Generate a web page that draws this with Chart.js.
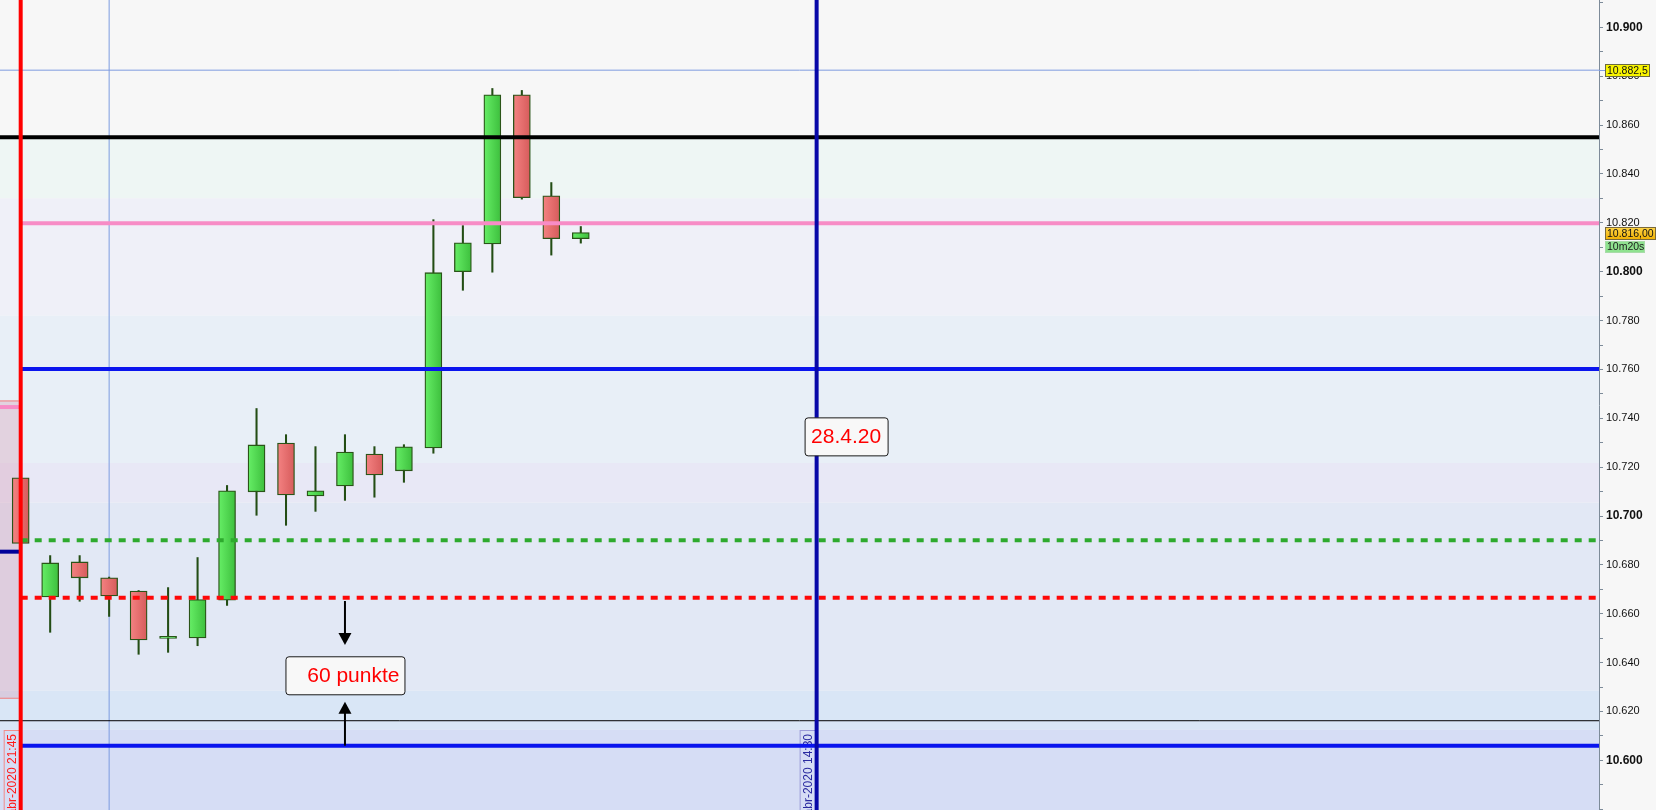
<!DOCTYPE html>
<html lang="es">
<head>
<meta charset="UTF-8">
<title>Velas 10 min</title>
<script src="https://cdn.jsdelivr.net/npm/chart.js@4"></script>
<style>
    html, body {
        margin: 0;
        padding: 0;
        background: #f7f7f7;
        overflow: hidden;
    }
    #wrap {
        position: relative;
        width: 1656px;
        height: 810px;
    }
</style>
</head>
<body>
<div id="wrap"><canvas id="chart"></canvas></div>
<script>
// candles, index 0 = bar on the red session line
const candleIdx = [0, 1, 2, 3, 4, 5, 6, 7, 8, 9, 10, 11, 12, 13, 14, 15, 16, 17, 18, 19];
const opens  = [10.7156, 10.6669, 10.6812, 10.6747, 10.6693, 10.6499, 10.6501, 10.6655, 10.7099, 10.7299,
                10.7082, 10.7123, 10.7254, 10.7185, 10.7279, 10.8000, 10.8114, 10.8724, 10.8311, 10.8135];
const highs  = [10.7160, 10.6838, 10.6838, 10.6750, 10.6695, 10.6707, 10.6830, 10.7125, 10.7440, 10.7333,
                10.7284, 10.7333, 10.7284, 10.7292, 10.8213, 10.8189, 10.8750, 10.8742, 10.8365, 10.8185];
const lows   = [10.6886, 10.6524, 10.6651, 10.6589, 10.6434, 10.6442, 10.6469, 10.6634, 10.7003, 10.6962,
                10.7019, 10.7064, 10.7077, 10.7138, 10.7257, 10.7924, 10.7998, 10.8297, 10.8068, 10.8117];
const closes = [10.6888, 10.6808, 10.6747, 10.6673, 10.6493, 10.6507, 10.6658, 10.7103, 10.7291, 10.7086,
                10.7103, 10.7262, 10.7168, 10.7283, 10.7996, 10.8118, 10.8724, 10.8303, 10.8135, 10.8160];

// visible range
const X_MIN = -0.702, X_MAX = 53.54;
const Y_MIN = 10.57966, Y_MAX = 10.91122;

// horizontal levels drawn across the chart
const levelValues = [10.8825, 10.855, 10.8198, 10.7602, 10.6901, 10.6665, 10.6162, 10.606];
const levelStart  = [X_MIN, X_MIN, 0, 0, 0, 0, X_MIN, 0];
// short levels left of the session line
const leftLevels = [10.7446, 10.6854];
// vertical lines (bar index)
const vLines = [3, 0, 27];

// background bands (price edges, top to bottom)
const bandEdges = [Y_MAX, 10.855, 10.830, 10.782, 10.7217, 10.7055, 10.6285, 10.6125, Y_MIN];
const bandColors = ['#f7f7f7', '#eef6f4', '#eff0f8', '#e8eff7', '#e8e8f6', '#e2e8f5', '#d9e6f6', '#d6ddf5'];
// shaded box of the previous session
const prevBox = [10.7473, 10.6252];

// notes
const notes = [
    { text: '28.4.20', x: 28, y: 10.7326 },
    { text: '60 punkte', x: 11, y: 10.6348 }
];
const arrowX = 11;
const arrowDown = [10.6652, 10.6472];
const arrowUp = [10.606, 10.624];
const dateLabels = [
    { x: 0, text: 'abr-2020 21:45' },
    { x: 27, text: 'abr-2020 14:30' }
];
// right axis badges
const crossValue = 10.8825, crossText = '10.882,5';
const lastValue = 10.816, lastText = '10.816,00', timerText = '10m20s';

const FONT = 'Arial, "Liberation Sans", sans-serif';

const levelColors = ['#7f9be0', '#000000', '#f78cc6', '#0a14ee', '#2eaa2e', '#ff0808', '#000000', '#0a14ee'];
const levelWidths = [1, 4, 4, 4, 4, 4, 1, 4];
const levelDash = [[], [], [], [], [7, 7], [7, 7], [], []];
const levelOrder = [9, 2, 2, 2, 2, 2, 1, 2];
const leftColors = ['#f78cc6', '#000099'];
const vColors = ['#7b9be0', '#ff0000', '#0808a8'];
const vWidths = [1, 4, 4];
const vOrder = [10, 0, 0];

function bodyFill(c) {
    const i = c.dataIndex;
    if (i === undefined) return '#55dd55';
    const up = closes[i] >= opens[i];
    const xs = c.chart.scales.x;
    if (!xs || !c.chart.chartArea) return up ? '#52dc52' : '#e86c6c';
    const px = xs.getPixelForValue(candleIdx[i]);
    const g = c.chart.ctx.createLinearGradient(px - 8.5, 0, px + 8.5, 0);
    if (up) {
        g.addColorStop(0, '#66ee66');
        g.addColorStop(1, '#3dbf3d');
    } else {
        g.addColorStop(0, '#f48282');
        g.addColorStop(1, '#d65b5b');
    }
    return g;
}

const datasets = [];
datasets.push({
    type: 'bar',
    data: candleIdx.map((x, i) => ({ x: x, y: [opens[i], closes[i]] })),
    backgroundColor: bodyFill,
    borderColor: '#2a5418',
    borderWidth: 1.3,
    borderSkipped: false,
    barThickness: 17,
    grouped: false,
    order: 5
});
datasets.push({
    type: 'bar',
    data: candleIdx.map((x, i) => ({ x: x, y: [lows[i], highs[i]] })),
    backgroundColor: '#234d14',
    borderWidth: 0,
    barThickness: 1.4,
    grouped: false,
    order: 6
});
levelValues.forEach((v, i) => {
    datasets.push({
        type: 'line',
        data: [{ x: levelStart[i], y: v }, { x: X_MAX, y: v }],
        borderColor: levelColors[i],
        borderWidth: levelWidths[i],
        borderDash: levelDash[i],
        borderCapStyle: 'butt',
        pointRadius: 0,
        fill: false,
        order: levelOrder[i]
    });
});
leftLevels.forEach((v, i) => {
    datasets.push({
        type: 'line',
        data: [{ x: X_MIN, y: v }, { x: 0, y: v }],
        borderColor: leftColors[i],
        borderWidth: 4,
        borderCapStyle: 'butt',
        pointRadius: 0,
        fill: false,
        order: 3
    });
});
vLines.forEach((xv, i) => {
    datasets.push({
        type: 'line',
        data: [{ x: xv, y: Y_MIN }, { x: xv, y: Y_MAX }],
        borderColor: vColors[i],
        borderWidth: vWidths[i],
        borderCapStyle: 'butt',
        pointRadius: 0,
        fill: false,
        order: vOrder[i]
    });
});

function roundBox(ctx, x, y, w, h, r) {
    ctx.beginPath();
    if (ctx.roundRect) ctx.roundRect(x, y, w, h, r);
    else ctx.rect(x, y, w, h);
}

function arrow(ctx, px, yFrom, yTip) {
    const dir = yTip > yFrom ? 1 : -1;
    ctx.strokeStyle = '#000';
    ctx.fillStyle = '#000';
    ctx.lineWidth = 2;
    ctx.beginPath();
    ctx.moveTo(px, yFrom);
    ctx.lineTo(px, yTip - dir * 11);
    ctx.stroke();
    ctx.beginPath();
    ctx.moveTo(px, yTip);
    ctx.lineTo(px - 6.5, yTip - dir * 12);
    ctx.lineTo(px + 6.5, yTip - dir * 12);
    ctx.closePath();
    ctx.fill();
}

const drawing = {
    id: 'drawing',
    beforeDraw(chart) {
        const { ctx, chartArea: a, scales: { y } } = chart;
        ctx.save();
        ctx.fillStyle = '#f7f7f7';
        ctx.fillRect(0, 0, chart.width, chart.height);
        for (let i = 0; i < bandColors.length; i++) {
            const y0 = y.getPixelForValue(bandEdges[i]);
            const y1 = y.getPixelForValue(bandEdges[i + 1]);
            ctx.fillStyle = bandColors[i];
            ctx.fillRect(a.left, y0, a.right - a.left, y1 - y0);
        }
        ctx.restore();
    },
    beforeDatasetsDraw(chart) {
        const { ctx, chartArea: a, scales: { x, y } } = chart;
        ctx.save();
        // previous session box
        const bx1 = x.getPixelForValue(0) - 2;
        const by0 = y.getPixelForValue(prevBox[0]);
        const by1 = y.getPixelForValue(prevBox[1]);
        ctx.fillStyle = 'rgba(215,150,175,0.32)';
        ctx.fillRect(a.left, by0, bx1 - a.left, by1 - by0);
        ctx.strokeStyle = '#f08080';
        ctx.lineWidth = 1;
        ctx.beginPath();
        ctx.moveTo(a.left, by0 + 0.5); ctx.lineTo(bx1, by0 + 0.5);
        ctx.moveTo(a.left, by1 - 0.5); ctx.lineTo(bx1, by1 - 0.5);
        ctx.stroke();

        // rotated date labels at the bottom
        const boxCols = ['#f08c8c', '#9a9ad8'];
        const txtCols = ['#ff1a1a', '#2a2aa0'];
        dateLabels.forEach((d, i) => {
            const px = x.getPixelForValue(d.x);
            ctx.strokeStyle = boxCols[i];
            ctx.lineWidth = 1;
            ctx.strokeRect(px - 16.5, 730.5, 17, 100);
            ctx.save();
            ctx.translate(px - 8, 734);
            ctx.rotate(-Math.PI / 2);
            ctx.font = '12px ' + FONT;
            ctx.fillStyle = txtCols[i];
            ctx.textAlign = 'right';
            ctx.textBaseline = 'middle';
            ctx.fillText(d.text, 0, 0);
            ctx.restore();
        });
        ctx.restore();
    },
    afterDatasetsDraw(chart) {
        const { ctx, scales: { x, y } } = chart;
        ctx.save();
        const ax = x.getPixelForValue(arrowX);
        arrow(ctx, ax, y.getPixelForValue(arrowDown[0]), y.getPixelForValue(arrowDown[1]));
        arrow(ctx, ax, y.getPixelForValue(arrowUp[0]), y.getPixelForValue(arrowUp[1]));

        ctx.font = '21px ' + FONT;
        ctx.textBaseline = 'middle';
        notes.forEach((n, i) => {
            const cx = x.getPixelForValue(n.x);
            const cy = y.getPixelForValue(n.y);
            const w = i === 0 ? 83 : 119;
            const h = 38;
            roundBox(ctx, cx - w / 2 + 0.5, cy - h / 2 + 0.5, w, h, 3);
            ctx.fillStyle = '#f8f8f8';
            ctx.fill();
            ctx.strokeStyle = '#1a1a1a';
            ctx.lineWidth = 1;
            ctx.stroke();
            ctx.fillStyle = '#ff0000';
            if (i === 0) {
                ctx.textAlign = 'center';
                ctx.fillText(n.text, cx, cy + 1);
            } else {
                ctx.textAlign = 'right';
                ctx.fillText(n.text, cx + w / 2 - 5, cy + 1);
            }
        });
        ctx.restore();
    },
    afterDraw(chart) {
        const { ctx, chartArea: a, scales: { y } } = chart;
        ctx.save();
        ctx.font = '10.5px ' + FONT;
        ctx.textBaseline = 'middle';
        ctx.textAlign = 'left';

        // crosshair badge
        const cy = Math.round(y.getPixelForValue(crossValue));
        ctx.strokeStyle = '#7f9be0';
        ctx.lineWidth = 1;
        ctx.beginPath();
        ctx.moveTo(a.right, cy + 0.5); ctx.lineTo(a.right + 6, cy + 0.5);
        ctx.stroke();
        ctx.fillStyle = '#f8f400';
        ctx.fillRect(a.right + 6, cy - 6, 45, 13);
        ctx.strokeStyle = '#6a6a40';
        ctx.strokeRect(a.right + 6.5, cy - 5.5, 44, 12);
        ctx.fillStyle = '#111';
        ctx.fillText(crossText, a.right + 8, cy + 1);

        // last price badge
        const ly = Math.round(y.getPixelForValue(lastValue));
        const g = ctx.createLinearGradient(0, ly - 6, 0, ly + 7);
        g.addColorStop(0, '#ffd64a');
        g.addColorStop(1, '#f0b000');
        ctx.fillStyle = g;
        ctx.fillRect(a.right + 6, ly - 6, 51, 13);
        ctx.strokeStyle = '#7a6a3a';
        ctx.strokeRect(a.right + 6.5, ly - 5.5, 50, 12);
        ctx.fillStyle = '#111';
        ctx.fillText(lastText, a.right + 8, ly + 1);

        // timer badge
        ctx.fillStyle = '#8fe28f';
        ctx.fillRect(a.right + 6, ly + 8, 40, 12);
        ctx.strokeStyle = '#a8dca8';
        ctx.strokeRect(a.right + 6.5, ly + 8.5, 39, 11);
        ctx.fillStyle = '#1a1a1a';
        ctx.fillText(timerText, a.right + 8, ly + 14.5);
        ctx.restore();
    }
};

new Chart(document.getElementById('chart'), {
    type: 'bar',
    data: { datasets: datasets },
    options: {
        responsive: true,
        maintainAspectRatio: false,
        animation: false,
        devicePixelRatio: 1,
        events: [],
        layout: { padding: 0 },
        plugins: {
            legend: { display: false },
            tooltip: { enabled: false }
        },
        scales: {
            x: {
                type: 'linear',
                min: X_MIN,
                max: X_MAX,
                offset: false,
                display: false,
                grid: { offset: false }
            },
            y: {
                type: 'linear',
                position: 'right',
                min: Y_MIN,
                max: Y_MAX,
                beginAtZero: false,
                afterFit(scale) {
                    scale.width = 57;
                    scale.paddingTop = 0;
                    scale.paddingBottom = 0;
                },
                border: { display: true, color: '#7d8b99', width: 1 },
                grid: {
                    drawOnChartArea: false,
                    drawTicks: true,
                    tickLength: 4,
                    color: '#7d8b99'
                },
                ticks: {
                    stepSize: 0.01,
                    includeBounds: false,
                    autoSkip: false,
                    maxRotation: 0,
                    minRotation: 0,
                    padding: 3,
                    color: '#111',
                    font: (c) => {
                        const k = c.tick ? Math.round(c.tick.value * 100) : 1;
                        return k % 10 === 0
                            ? { family: FONT, size: 12, weight: 'bold' }
                            : { family: FONT, size: 11 };
                    },
                    callback: (v) => {
                        const k = Math.round(v * 100);
                        return (k % 2 === 0 && k > 1059) ? v.toFixed(3) : '';
                    }
                }
            }
        }
    },
    plugins: [drawing]
});
</script>
</body>
</html>
